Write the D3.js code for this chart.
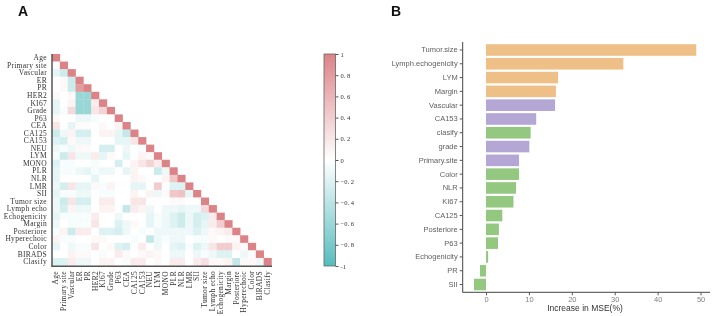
<!DOCTYPE html>
<html>
<head>
<meta charset="utf-8">
<script src="https://cdn.jsdelivr.net/npm/d3@7"></script>
<style>
  html, body { margin: 0; padding: 0; background: #fff; }
  svg { display: block; will-change: transform; transform: translateZ(0); }
</style>
</head>
<body>
<svg id="chart" width="712" height="316"></svg>
<script>
/* ── Data: panel A (correlation, lower triangle rows) ── */
const vars = ['Age', 'Primary site', 'Vascular', 'ER', 'PR', 'HER2', 'KI67', 'Grade', 'P63', 'CEA',
  'CA125', 'CA153', 'NEU', 'LYM', 'MONO', 'PLR', 'NLR', 'LMR', 'SII', 'Tumor size', 'Lymph echo',
  'Echogenicity', 'Margin', 'Posteriore', 'Hyperechoic', 'Color', 'BIRADS', 'Clasify'];

const corrRows = [
  [],
  [0.02],
  [-0.15, -0.3],
  [0, 0.05, -0.3],
  [0, 0.05, -0.3, 0.8],
  [0.05, 0, 0.05, -0.6, -0.6],
  [-0.15, 0, 0.1, -0.6, -0.6, 0.15],
  [-0.15, -0.05, 0.3, -0.6, -0.6, 0.2, 0.35],
  [0.05, 0, 0, -0.1, -0.1, -0.05, 0, 0],
  [0.2, 0, -0.15, 0.03, 0.03, 0, 0.05, 0, 0.1],
  [-0.3, -0.1, 0.1, -0.25, -0.25, 0, 0.1, 0.1, -0.15, -0.35],
  [-0.2, -0.25, 0.05, -0.1, -0.1, 0, 0, 0, -0.15, -0.15, 0.2],
  [-0.1, -0.05, -0.1, 0.05, 0.05, 0, -0.25, -0.25, 0, -0.1, 0, -0.05],
  [-0.05, -0.3, 0.2, -0.1, -0.1, 0.15, -0.15, 0.05, 0, -0.15, 0, 0.1, 0.05],
  [-0.2, -0.05, -0.05, 0, 0, -0.05, 0, 0, -0.25, 0, 0.1, 0.2, 0.35, 0.15],
  [-0.15, -0.05, -0.05, -0.1, -0.15, -0.05, -0.1, -0.1, 0, -0.15, 0.1, 0, 0, -0.3, -0.1],
  [-0.15, 0, 0, 0, 0, -0.15, 0, 0, 0, 0, 0.1, 0.05, 0, 0, 0.1, 0.45],
  [-0.1, -0.25, 0.2, -0.15, -0.15, 0.05, -0.05, 0.1, 0, 0, -0.15, -0.15, 0, 0.4, 0, -0.2, -0.2],
  [-0.15, -0.05, -0.05, -0.1, -0.1, 0, -0.05, -0.05, 0, 0, 0.1, 0, 0.1, -0.1, 0.05, 0.45, 0.5, -0.15],
  [-0.1, -0.3, 0.2, -0.25, -0.25, 0, 0.15, 0.15, 0, 0, 0.2, 0.2, 0, 0, 0, 0.05, 0.05, 0, 0],
  [-0.1, -0.25, 0.1, -0.1, -0.1, 0, 0.1, 0.1, 0, -0.35, 0.15, 0.1, -0.1, 0, -0.1, -0.1, -0.15, -0.1, -0.1, 0.3],
  [-0.15, -0.05, -0.05, -0.05, -0.05, 0.15, 0, 0, -0.1, 0, 0, 0, -0.15, -0.05, -0.1, -0.2, -0.3, -0.1, -0.25, -0.2, 0.15],
  [-0.1, 0, -0.05, -0.05, -0.05, 0.2, 0, 0, -0.2, -0.1, 0.05, 0, -0.15, -0.05, -0.1, -0.2, -0.3, -0.1, -0.25, -0.15, 0.15, 0.4],
  [-0.05, 0.1, -0.3, 0.15, 0.15, 0, -0.2, -0.2, -0.25, -0.1, 0, -0.05, 0, -0.1, -0.1, -0.1, -0.1, -0.1, -0.2, -0.1, 0.05, 0.1, 0.15],
  [0.1, -0.05, -0.05, 0, 0, 0.05, 0.05, 0, 0, 0, -0.05, 0, -0.35, -0.1, -0.05, -0.1, -0.1, 0, -0.05, -0.05, 0.05, 0, 0.05, 0.05],
  [-0.15, 0, -0.1, -0.05, -0.05, 0.2, 0, 0.05, -0.2, -0.25, 0, 0.15, 0, -0.1, 0, -0.15, -0.2, -0.05, -0.2, -0.1, 0.2, 0.4, 0.4, 0.1, 0.05],
  [0, 0, 0.1, 0.05, 0.05, 0, -0.05, 0, 0.15, 0.05, 0, 0.05, 0.1, 0.05, 0, -0.1, -0.1, 0, -0.1, -0.05, -0.1, -0.2, -0.2, 0, -0.1, -0.05],
  [-0.2, -0.2, 0.15, -0.1, -0.1, 0, 0.1, 0.1, 0, -0.05, 0.15, 0.15, 0, 0.05, 0, 0.15, 0.15, 0, 0.15, 0.25, 0.05, 0.05, 0.1, -0.35, 0.05, 0.05, -0.1]
];
const colorbarTicks = [1, 0.8, 0.6, 0.4, 0.2, 0, -0.2, -0.4, -0.6, -0.8, -1];

/* ── Data: panel B (importance) ── */
const features = ['Tumor.size', 'Lymph.echogenicity', 'LYM', 'Margin', 'Vascular', 'CA153', 'clasify',
  'grade', 'Primary.site', 'Color', 'NLR', 'KI67', 'CA125', 'Posteriore', 'P63', 'Echogenicity', 'PR', 'SII'];
const mseIncrease = [49, 32, 16.8, 16.3, 16.1, 11.7, 10.4, 10.1, 7.7, 7.7, 7.0, 6.4, 3.8, 3.0, 2.8, 0.5, -1.4, -2.8];
const featureGroup = ['ultrasound', 'ultrasound', 'ultrasound', 'ultrasound', 'clinical', 'clinical', 'other',
  'clinical', 'clinical', 'other', 'other', 'other', 'other', 'other', 'other', 'other', 'other', 'other'];
const xTicks = [0, 10, 20, 30, 40, 50];

const GROUP_COLORS = { ultrasound: '#EEC087', clinical: '#B4A6D5', other: '#94C77F' };

const svg = d3.select('#chart');

/* ── Panel letters ── */
svg.append('text').attr('x', 18).attr('y', 16).attr('font-family', 'Liberation Sans, Arial, sans-serif')
  .attr('font-weight', 700).attr('font-size', 14).attr('fill', '#111').text('A');
svg.append('text').attr('x', 391).attr('y', 16).attr('font-family', 'Liberation Sans, Arial, sans-serif')
  .attr('font-weight', 700).attr('font-size', 14).attr('fill', '#111').text('B');

/* ── Panel A: heatmap ── */
const serif = 'Liberation Serif, Times New Roman, serif';
const hx = d3.scaleBand().domain(vars).range([52, 271.5]);
const hy = d3.scaleBand().domain(vars).range([54, 265.5]);
const corrColor = d3.scaleLinear().domain([-1, 0, 1]).range(['#55BCBD', '#ffffff', '#DC8387']);

const cells = [];
vars.forEach((rv, i) => {
  corrRows[i].forEach((v, j) => cells.push({ r: rv, c: vars[j], v }));
  cells.push({ r: rv, c: rv, v: 1 });
});

const gA = svg.append('g');
gA.selectAll('rect.cell')
  .data(cells)
  .join('rect')
  .attr('class', 'cell')
  .attr('x', (d) => hx(d.c))
  .attr('y', (d) => hy(d.r))
  .attr('width', hx.bandwidth() + 0.3)
  .attr('height', hy.bandwidth() + 0.3)
  .attr('fill', (d) => corrColor(d.v));

// row labels
gA.append('g')
  .attr('transform', 'translate(52,0)')
  .call(d3.axisLeft(hy).tickSize(0).tickPadding(5))
  .call((a) => a.select('.domain').remove())
  .call((a) => a.selectAll('text')
    .attr('font-family', serif).attr('font-size', 7.5).attr('letter-spacing', 0.3).attr('fill', '#333'));

// column labels
gA.append('g')
  .attr('transform', 'translate(0,266)')
  .call(d3.axisBottom(hx).tickSize(0).tickPadding(0))
  .call((a) => a.select('.domain').remove())
  .call((a) => a.selectAll('text')
    .attr('font-family', serif).attr('font-size', 7.5).attr('letter-spacing', 0.3).attr('fill', '#333')
    .attr('text-anchor', 'end')
    .attr('transform', 'rotate(-90)')
    .attr('x', -5).attr('y', 0).attr('dy', '0.32em'));

// frame lines
gA.append('line').attr('x1', 52).attr('x2', 52).attr('y1', 54).attr('y2', 266.5)
  .attr('stroke', '#555').attr('stroke-width', 1.5);
gA.append('line').attr('x1', 51.3).attr('x2', 272).attr('y1', 266.3).attr('y2', 266.3)
  .attr('stroke', '#555').attr('stroke-width', 1.5);

/* ── Colorbar ── */
const cbY = d3.scaleLinear().domain([-1, 1]).range([266, 54]);
const defs = svg.append('defs');
const grad = defs.append('linearGradient').attr('id', 'cbgrad')
  .attr('x1', 0).attr('y1', 1).attr('x2', 0).attr('y2', 0);
d3.range(-1, 1.01, 0.25).forEach((v) => {
  grad.append('stop').attr('offset', (v + 1) / 2).attr('stop-color', corrColor(v));
});
svg.append('rect').attr('x', 324).attr('y', cbY(1)).attr('width', 11.5).attr('height', cbY(-1) - cbY(1))
  .attr('fill', 'url(#cbgrad)').attr('stroke', '#666').attr('stroke-width', 0.8);
svg.append('g')
  .attr('transform', 'translate(335.5,0)')
  .call(d3.axisRight(cbY).tickValues(colorbarTicks).tickSize(3).tickPadding(2)
    .tickFormat((v) => (v === 0 ? '0' : Math.abs(v) === 1 ? String(v) : d3.format('.1f')(v).replace('.', '. '))))
  .call((a) => a.select('.domain').remove())
  .call((a) => a.selectAll('line').attr('stroke', '#555'))
  .call((a) => a.selectAll('text').attr('font-family', serif).attr('font-size', 6.5).attr('fill', '#333'));

/* ── Panel B: bar chart ── */
const bx = d3.scaleLinear().domain([-5.43, 52.2]).range([462.7, 710]);
const by = d3.scaleBand().domain(features).range([43.5, 291]).paddingInner(0.16).paddingOuter(0.05);
const sans = 'Liberation Sans, Arial, sans-serif';

const gB = svg.append('g');
gB.selectAll('rect.bar')
  .data(features)
  .join('rect')
  .attr('class', 'bar')
  .attr('x', (f, i) => bx(Math.min(0, mseIncrease[i])))
  .attr('y', (f) => by(f))
  .attr('width', (f, i) => Math.abs(bx(mseIncrease[i]) - bx(0)))
  .attr('height', by.bandwidth())
  .attr('fill', (f, i) => GROUP_COLORS[featureGroup[i]]);

// y axis
gB.append('g')
  .attr('transform', 'translate(462.7,0)')
  .call(d3.axisLeft(by).tickSize(3).tickPadding(2))
  .call((a) => a.select('.domain').attr('d', 'M0,42V292.5').attr('stroke', '#444').attr('stroke-width', 1))
  .call((a) => a.selectAll('.tick line').attr('stroke', '#555'))
  .call((a) => a.selectAll('text').attr('font-family', sans).attr('font-size', 7.5).attr('fill', '#606060'));

// x axis
gB.append('g')
  .attr('transform', 'translate(0,292.3)')
  .call(d3.axisBottom(bx).tickValues(xTicks).tickSize(3).tickPadding(1.5))
  .call((a) => a.select('.domain').attr('d', 'M462.7,0H710').attr('stroke', '#444').attr('stroke-width', 1))
  .call((a) => a.selectAll('.tick line').attr('stroke', '#555'))
  .call((a) => a.selectAll('text').attr('font-family', sans).attr('font-size', 7.5).attr('fill', '#808080'));

gB.append('text')
  .attr('x', 585).attr('y', 311)
  .attr('text-anchor', 'middle')
  .attr('font-family', sans).attr('font-size', 8.5).attr('fill', '#333')
  .text('Increase in MSE(%)');
</script>
</body>
</html>
